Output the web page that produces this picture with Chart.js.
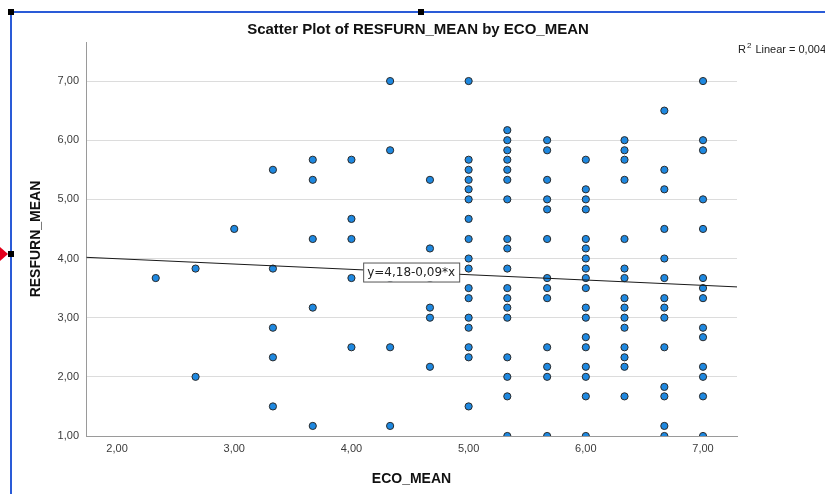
<!DOCTYPE html>
<html>
<head>
<meta charset="utf-8">
<title>Scatter Plot of RESFURN_MEAN by ECO_MEAN</title>
<script src="https://cdn.jsdelivr.net/npm/chart.js@4.4.1/dist/chart.umd.min.js"></script>
<style>
  html, body { margin: 0; padding: 0; background: #fff; }
  #wrap { width: 825px; height: 494px; }
</style>
</head>
<body>
<div id="wrap"><canvas id="scatter" width="825" height="494"></canvas></div>
<script>
const fontFamily = '"Liberation Sans", Arial, sans-serif';
const pointColor = "#1e88e0";

// ECO_MEAN levels and the RESFURN_MEAN values seen at each level
const ecoLevels = [2.33, 2.67, 3.00, 3.33, 3.67, 4.00, 4.33, 4.67, 5.00, 5.33, 5.67, 6.00, 6.33, 6.67, 7.00];
const resfurnByEco = [
    [3.67],
    [3.83, 2.00],
    [4.50],
    [5.50, 3.83, 2.83, 2.33, 1.50],
    [5.67, 5.33, 4.33, 3.17, 1.17],
    [5.67, 4.67, 4.33, 3.67, 2.50],
    [7.00, 5.83, 3.67, 2.50, 1.17],
    [5.33, 4.17, 3.67, 3.17, 3.00, 2.17],
    [7.00, 5.67, 5.50, 5.33, 5.17, 5.00, 4.67, 4.33, 4.00, 3.83, 3.50, 3.33, 3.00, 2.83, 2.50, 2.33, 1.50],
    [6.17, 6.00, 5.83, 5.67, 5.50, 5.33, 5.00, 4.33, 4.17, 3.83, 3.50, 3.33, 3.17, 3.00, 2.33, 2.00, 1.67, 1.00],
    [6.00, 5.83, 5.33, 5.00, 4.83, 4.33, 3.67, 3.50, 3.33, 2.50, 2.17, 2.00, 1.00],
    [5.67, 5.17, 5.00, 4.83, 4.33, 4.17, 4.00, 3.83, 3.67, 3.50, 3.17, 3.00, 2.67, 2.50, 2.17, 2.00, 1.67, 1.00],
    [6.00, 5.83, 5.67, 5.33, 4.33, 3.83, 3.67, 3.33, 3.17, 3.00, 2.83, 2.50, 2.33, 2.17, 1.67],
    [6.50, 5.50, 5.17, 4.50, 4.00, 3.67, 3.33, 3.17, 3.00, 2.50, 1.83, 1.67, 1.17, 1.00],
    [7.00, 6.00, 5.83, 5.00, 4.50, 3.67, 3.50, 3.33, 2.83, 2.67, 2.17, 2.00, 1.67, 1.00]
];

// fit line end points (y=4,18-0,09*x across the x range)
const fitLineX = [1.74, 7.29];
const fitLineY = [4.02, 3.52];
const fitLabel = "y=4,18-0,09*x";
const r2Text = "Linear = 0,004";

const xTicks = [2, 3, 4, 5, 6, 7];
const yTicks = [1, 2, 3, 4, 5, 6, 7];

const points = [];
ecoLevels.forEach((eco, i) => {
    resfurnByEco[i].forEach(v => points.push({ x: eco, y: v }));
});
const fitPoints = fitLineX.map((x, i) => ({ x: x, y: fitLineY[i] }));

const fmt = v => v.toFixed(2).replace('.', ',');

const spssDecor = {
    id: 'spssDecor',
    afterDraw(chart) {
        const { ctx, chartArea: { top, bottom, left, right } } = chart;
        const x = chart.scales.x, y = chart.scales.y;
        ctx.save();

        // title
        ctx.fillStyle = "#111";
        ctx.textAlign = 'center';
        ctx.textBaseline = 'middle';
        ctx.font = 'bold 15px ' + fontFamily;
        ctx.fillText('Scatter Plot of RESFURN_MEAN by ECO_MEAN', 418, 30);

        // axis titles
        ctx.font = 'bold 14px ' + fontFamily;
        ctx.fillText('ECO_MEAN', (left + right) / 2, 479);
        ctx.save();
        ctx.translate(36, (top + bottom) / 2);
        ctx.rotate(-Math.PI / 2);
        ctx.fillText('RESFURN_MEAN', 0, 0);
        ctx.restore();

        // R2 note, runs off the right edge as in the original
        ctx.textAlign = 'left';
        ctx.fillStyle = "#222";
        ctx.font = '11px ' + fontFamily;
        let rx = right + 1;
        ctx.fillText('R', rx, 50);
        rx += ctx.measureText('R').width + 1;
        ctx.font = '8px ' + fontFamily;
        ctx.fillText('2', rx, 46);
        rx += ctx.measureText('2').width + 4;
        ctx.font = '11px ' + fontFamily;
        ctx.fillText(r2Text, rx, 50);

        // equation box
        ctx.font = '12px "DejaVu Sans", sans-serif';
        const bx = x.getPixelForValue(4.1), by = y.getPixelForValue(4.0) + 4;
        const bw = ctx.measureText(fitLabel).width + 8;
        ctx.fillStyle = "#fff";
        ctx.fillRect(bx, by, bw, 19);
        ctx.strokeStyle = "#555";
        ctx.lineWidth = 1;
        ctx.strokeRect(bx + 0.5, by + 0.5, bw, 19);
        ctx.fillStyle = "#222";
        ctx.fillText(fitLabel, bx + 4, by + 10);

        // editor selection frame
        ctx.fillStyle = "#2a5bd7";
        ctx.fillRect(11, 11, 825 - 11, 2);
        ctx.fillRect(10, 11, 2, 494 - 11);
        ctx.fillStyle = "#000";
        ctx.fillRect(8, 9, 6, 6);
        ctx.fillRect(418, 9, 6, 6);
        ctx.fillRect(8, 251, 6, 6);
        ctx.fillStyle = "#e3001b";
        ctx.beginPath();
        ctx.moveTo(0, 247);
        ctx.lineTo(8, 254);
        ctx.lineTo(0, 261);
        ctx.closePath();
        ctx.fill();

        ctx.restore();
    }
};

new Chart("scatter", {
    type: "scatter",
    data: {
        datasets: [{
            type: "line",
            data: fitPoints,
            borderColor: "#1a1a1a",
            borderWidth: 1,
            pointRadius: 0,
            fill: false,
            order: 0,
        },
        {
            data: points,
            backgroundColor: pointColor,
            borderColor: "#2a2a2a",
            borderWidth: 1,
            pointRadius: 3.6,
            clip: 0,
            order: 1,
        }],
    },
    options: {
        responsive: false,
        animation: false,
        devicePixelRatio: 1,
        layout: {
            padding: { top: 42, right: 88, left: 0, bottom: 0 },
        },
        plugins: {
            legend: { display: false },
            tooltip: { enabled: false },
        },
        scales: {
            x: {
                type: 'linear',
                min: 1.735,
                max: 7.29,
                afterBuildTicks: scale => { scale.ticks = xTicks.map(v => ({ value: v })); },
                afterFit: scale => { scale.height = 58; },
                grid: { display: false, drawTicks: false },
                border: { color: "#9a9a9a", width: 1 },
                ticks: {
                    padding: 6,
                    color: "#3a3a3a",
                    font: { family: fontFamily, size: 11 },
                    callback: v => fmt(v),
                },
            },
            y: {
                type: 'linear',
                min: 1,
                max: 7.66,
                afterBuildTicks: scale => { scale.ticks = yTicks.map(v => ({ value: v })); },
                afterFit: scale => { scale.width = 86; },
                grid: { color: "#dcdcdc", lineWidth: 1, drawTicks: false },
                border: { color: "#9a9a9a", width: 1 },
                ticks: {
                    padding: 7,
                    color: "#3a3a3a",
                    font: { family: fontFamily, size: 11 },
                    callback: v => fmt(v),
                },
            },
        },
    },
    plugins: [spssDecor]
});
</script>
</body>
</html>
